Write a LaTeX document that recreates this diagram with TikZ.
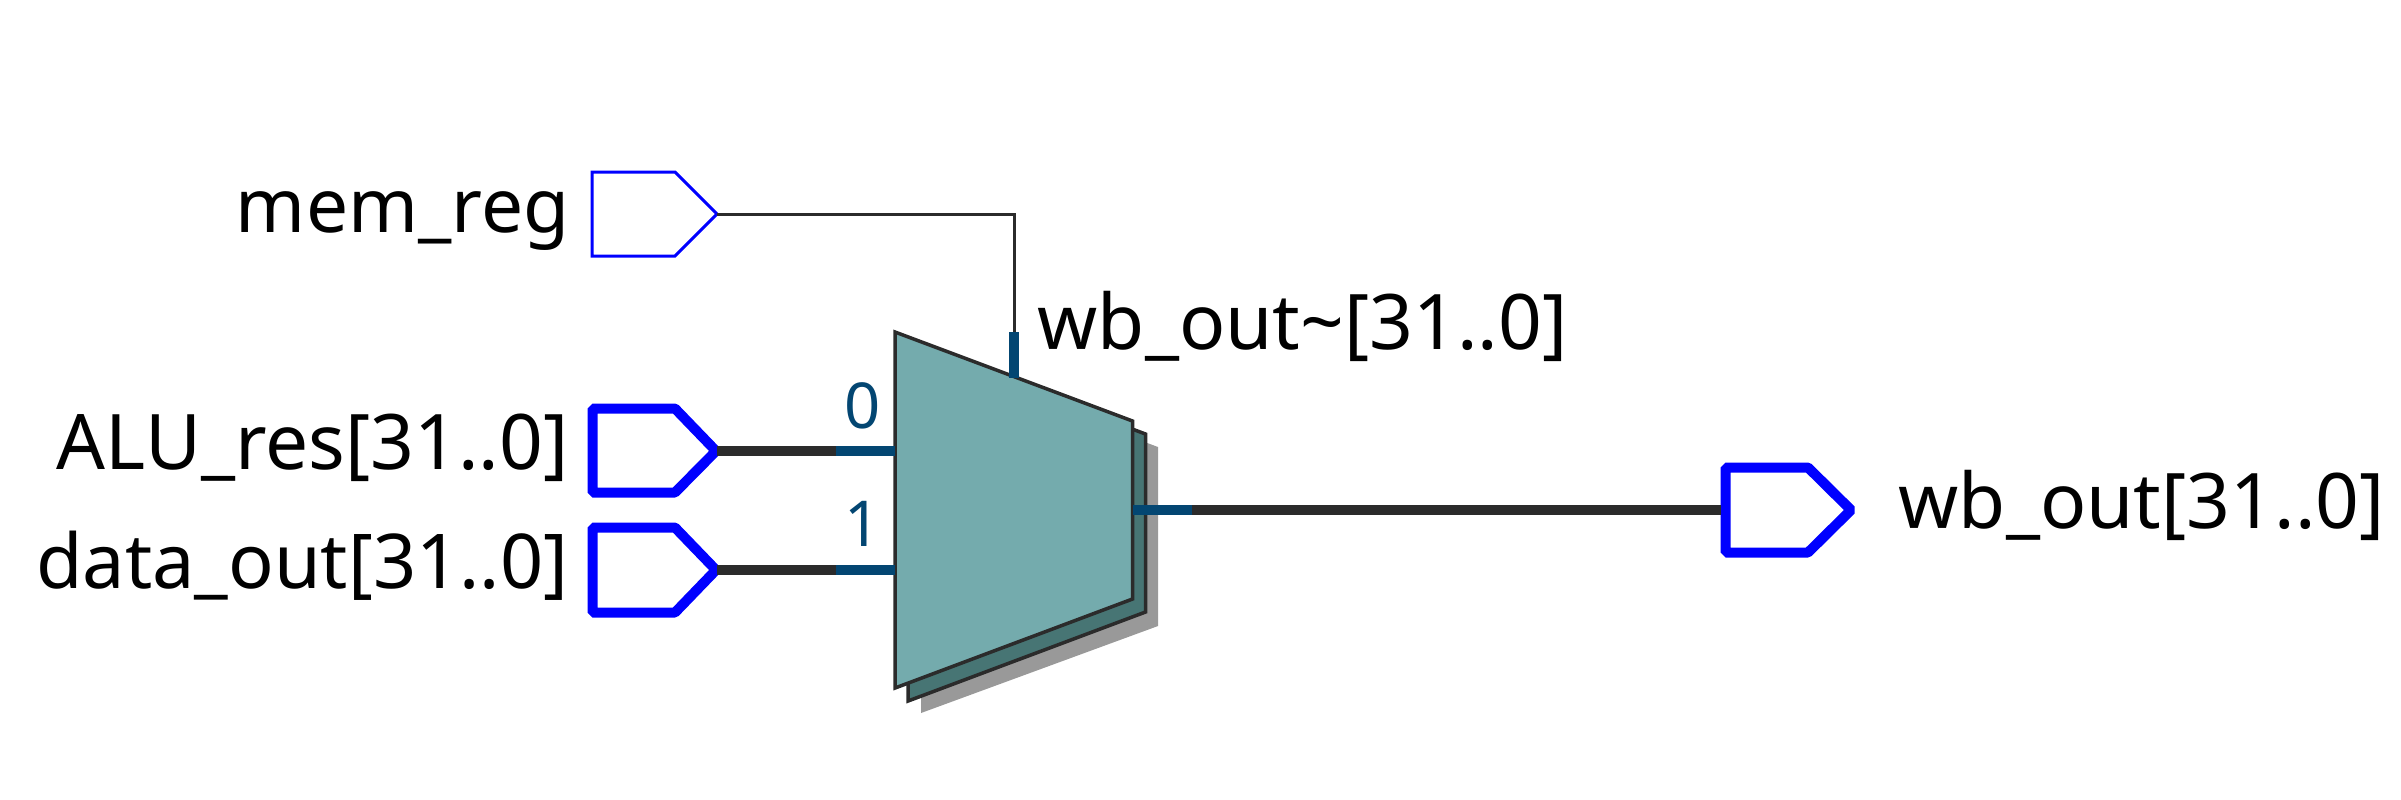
\documentclass[tikz,border=0pt]{standalone}
\usepackage{fontspec}
\setmainfont{Noto Sans}
\usepackage{tikz}

\definecolor{wiredark}{HTML}{2B2B2B}
\definecolor{busblue}{HTML}{034672}
\definecolor{muxfront}{HTML}{74ABAD}
\definecolor{muxback}{HTML}{477574}
\definecolor{muxshadow}{HTML}{999999}

\tikzset{
  pinthin/.style={draw=blue, line width=0.85pt, fill=white},
  pinbus/.style={draw=blue, line width=2.85pt, line join=bevel, fill=white},
  wirethin/.style={draw=wiredark, line width=0.85pt},
  wirebus/.style={draw=wiredark, line width=2.7pt},
  stubbus/.style={draw=busblue, line width=2.7pt},
  muxbody/.style={draw=wiredark, line width=1pt},
  sig/.style={font=\fontsize{21.8}{21.8}\selectfont, inner sep=0pt},
  portnum/.style={font=\fontsize{18}{18}\selectfont, text=busblue, inner sep=0pt}
}

\begin{document}
\begin{tikzpicture}[x=0.01cm, y=-0.01cm]
    \useasboundingbox (0, 0) rectangle (2401, 799);
    % MUX
    \fill [muxshadow]      (921, 358) -- (1158, 447) -- (1158, 626) -- (921, 713) -- cycle;
    \draw [muxbody, fill=muxback]  (908, 345) -- (1145.5, 434) -- (1145.5, 612) -- (908, 701) -- cycle;
    \draw [muxbody, fill=muxfront] (895, 332) -- (1132.5, 421) -- (1132.5, 599) -- (895, 688) -- cycle;
    \coordinate (mux_sel) at (1014, 378);
    \coordinate (mux_in0) at (895, 451);
    \coordinate (mux_in1) at (895, 570);
    \coordinate (mux_out) at (1133, 510);
    \coordinate (bus_in0) at (836, 451);
    \coordinate (bus_in1) at (836, 570);
    \coordinate (bus_out) at (1192, 510);
    \coordinate (sel_top) at (1014, 332);
    \node [sig, anchor=base west] (mux_name) at (1037, 349) {wb\_out\char`\~[31..0]};
    \node [portnum, anchor=base] (port0) at (863, 428) {0};
    \node [portnum, anchor=base] (port1) at (863, 546) {1};
    % mem_reg
    \draw [pinthin] (592, 172) -- (675, 172) -- (717, 214) -- (675, 256) -- (592, 256) -- cycle;
    \coordinate (mem_reg) at (717, 214);
    \node [sig, font=\fontsize{21.3}{21.3}\selectfont, anchor=base east] (mem_name) at (570, 232) {mem\_reg};
    % ALU_res
    \draw [pinbus] (592.5, 408.5) -- (675, 408.5) -- (716, 451) -- (675, 492.5) -- (592.5, 492.5) -- cycle;
    \coordinate (alu_res) at (717, 451);
    \node [sig, anchor=base east] (alu_name) at (569, 469) {ALU\_res[31..0]};
    % data_out
    \draw [pinbus] (592.5, 527.5) -- (675, 527.5) -- (716, 570) -- (675, 612.5) -- (592.5, 612.5) -- cycle;
    \coordinate (data_out) at (717, 570);
    \node [sig, font=\fontsize{21.5}{21.5}\selectfont, anchor=base east] (data_name) at (569, 588) {data\_out[31..0]};
    % wb_out
    \draw [pinbus] (1725.5, 467.5) -- (1808, 467.5) -- (1851, 510) -- (1808, 552.5) -- (1725.5, 552.5) -- cycle;
    \coordinate (wb_out) at (1721, 510);
    \node [sig, anchor=base west] (wb_name) at (1898, 528) {wb\_out[31..0]};
    % wires
    \draw [wirethin] (mem_reg) -| (sel_top);
    \draw [stubbus]  (sel_top) -- (mux_sel);
    \draw [wirebus]  (alu_res) -- (bus_in0);
    \draw [stubbus]  (bus_in0) -- (mux_in0);
    \draw [wirebus]  (data_out) -- (bus_in1);
    \draw [stubbus]  (bus_in1) -- (mux_in1);
    \draw [stubbus]  (mux_out) -- (bus_out);
    \draw [wirebus]  (bus_out) -- (wb_out);
\end{tikzpicture}
\end{document}
